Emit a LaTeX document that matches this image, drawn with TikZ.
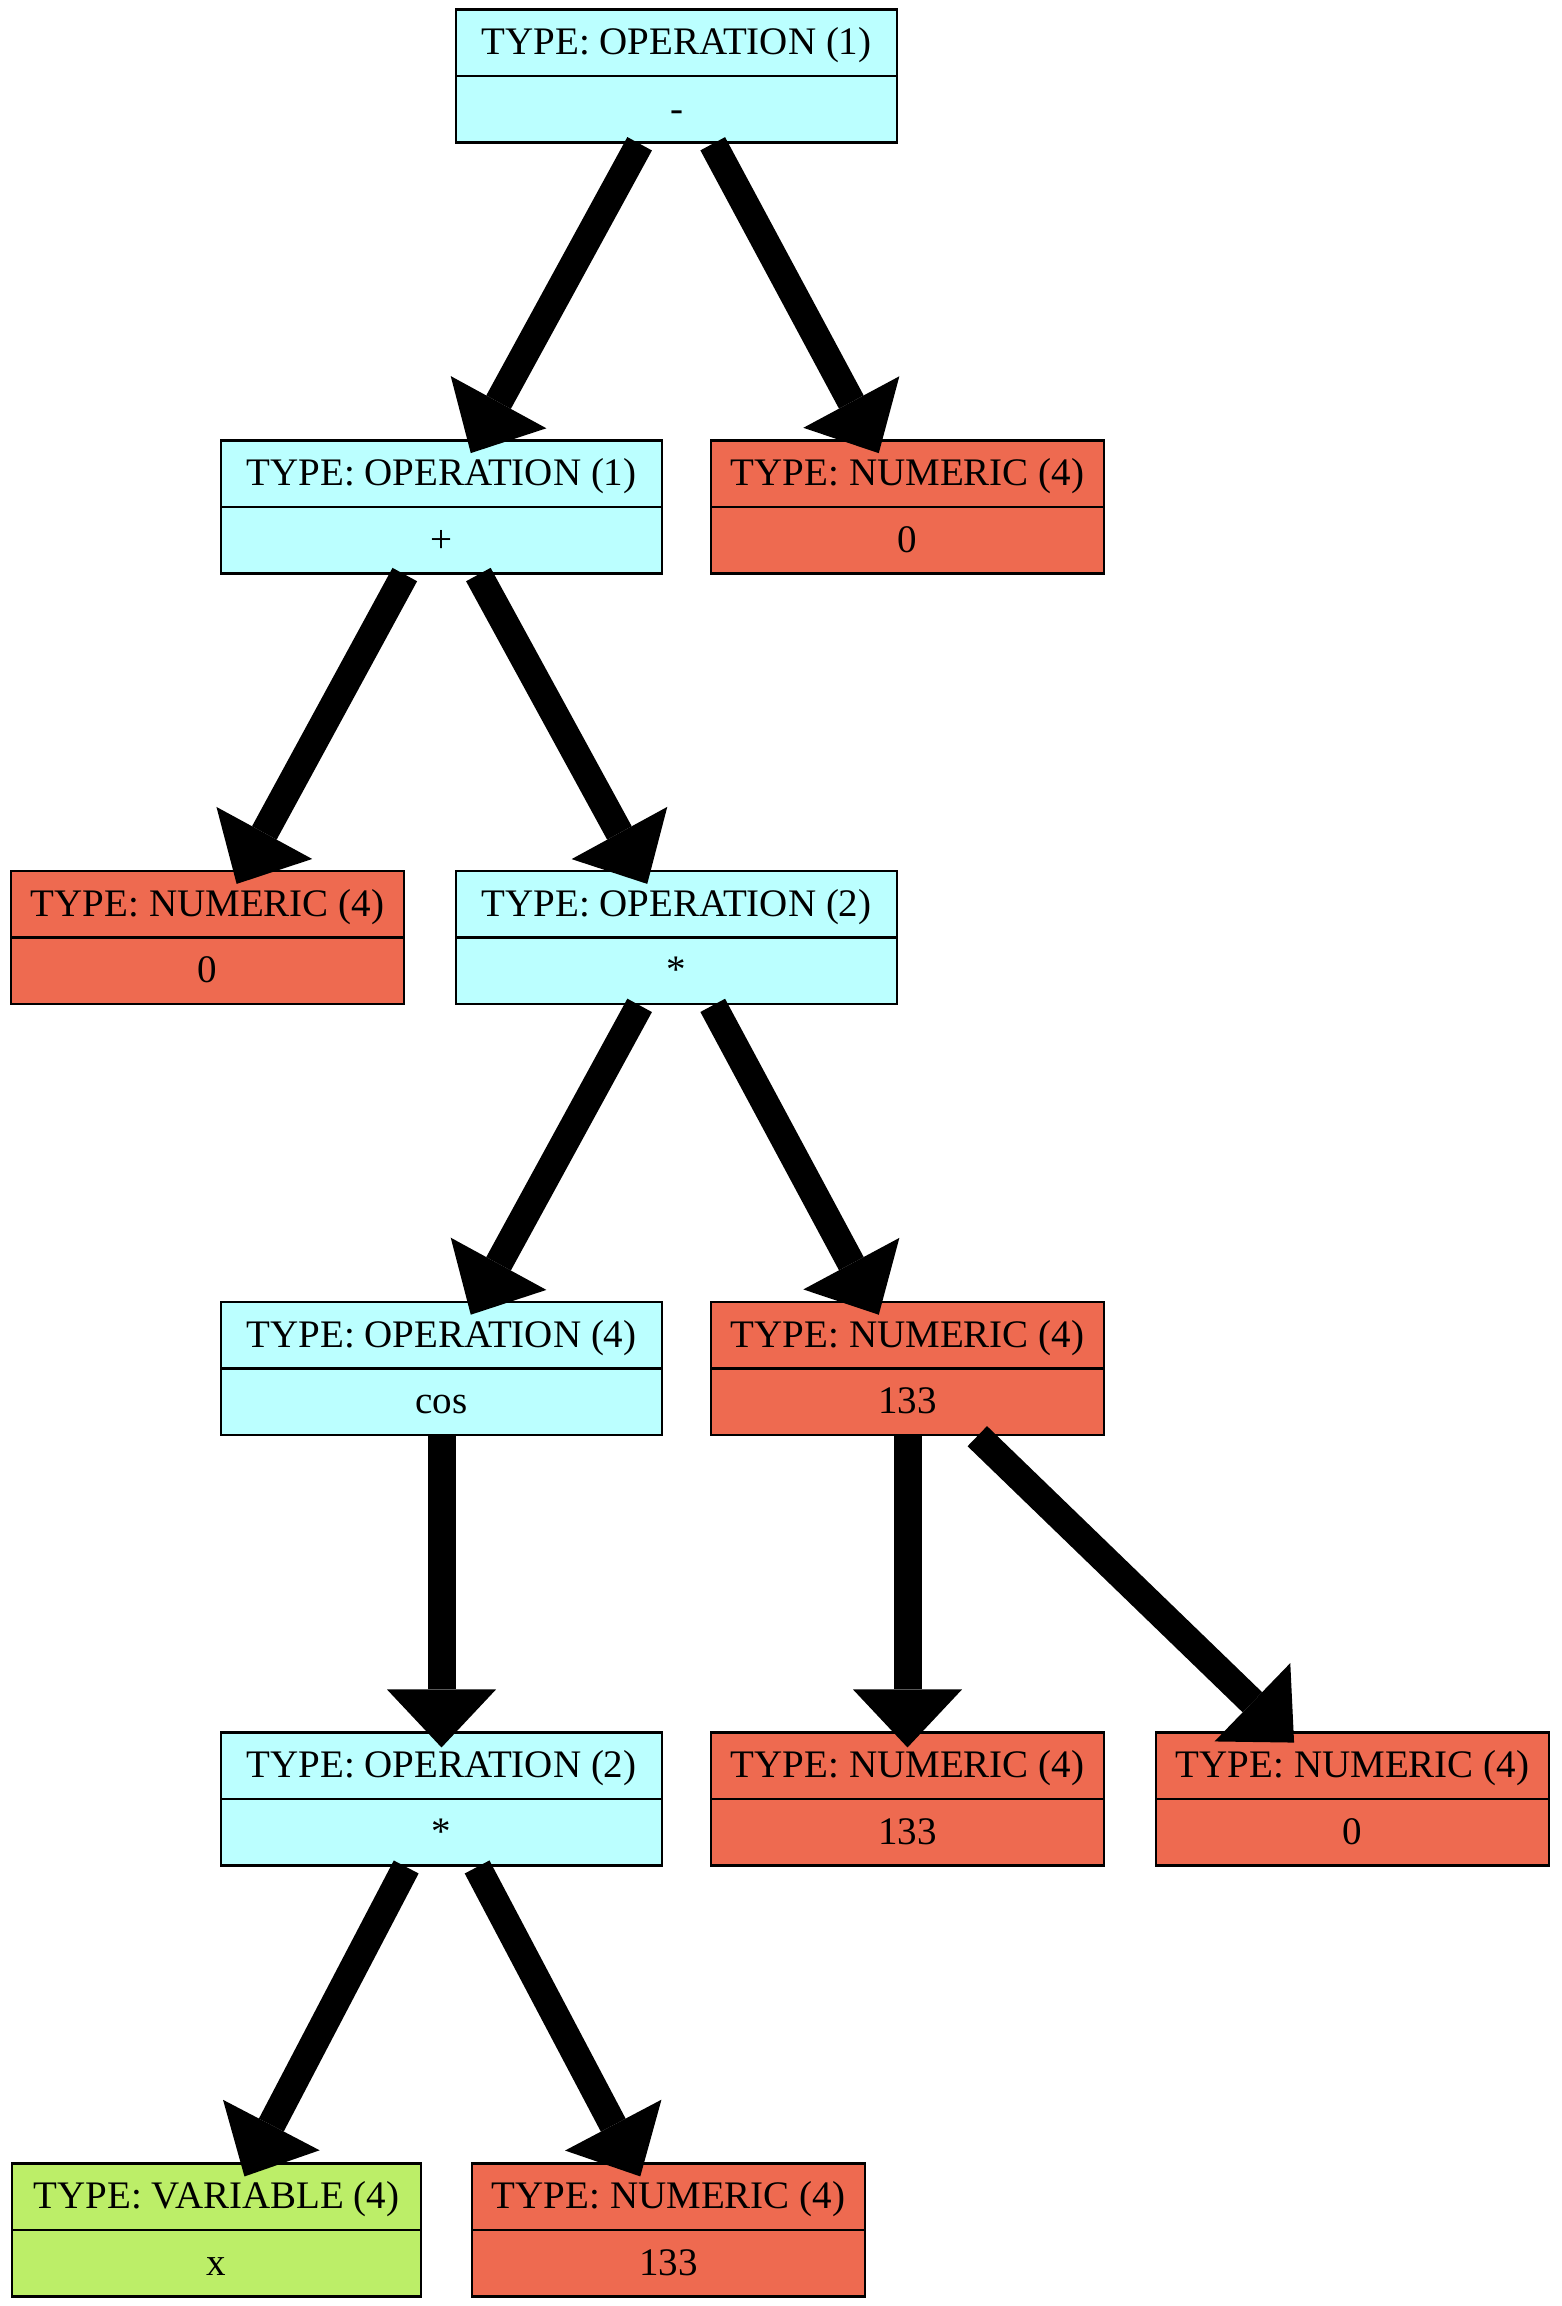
\documentclass[tikz,border=0pt]{standalone}
\usepackage{fontspec}
\setmainfont{Liberation Serif}
\usetikzlibrary{shapes.multipart,arrows.meta}

\definecolor{opfill}{HTML}{BBFFFF}
\definecolor{numfill}{HTML}{EE6A50}
\definecolor{varfill}{HTML}{BCEE68}

% fixed-height cell: every record field is 64pt tall, text baseline at 44pt
\newcommand\cellrow[1]{\rule[-20pt]{0pt}{64pt}#1}

\tikzset{
  treenode/.style={rectangle split, rectangle split parts=2, draw=black,
    line width=2.5pt, inner xsep=0pt, inner ysep=0pt,
    font=\fontsize{39}{47}\selectfont},
  opnode/.style={treenode, fill=opfill, minimum width=441pt},
  numnode/.style={treenode, fill=numfill, minimum width=393pt},
  varnode/.style={treenode, fill=varfill, minimum width=409pt},
  treeedge/.style={line width=28pt,
    -{Triangle[width=109pt,length=58pt,line width=0pt]}, shorten >=-16pt}
}

\begin{document}
\begin{tikzpicture}[x=1pt,y=1pt]
\useasboundingbox (0,0) rectangle (1561,-2306);

\node[opnode]  (n1)  at (676.5,-76)    {\cellrow{TYPE: OPERATION (1)}\nodepart{two}\cellrow{-}};
\node[opnode]  (n2)  at (441.5,-506.8) {\cellrow{TYPE: OPERATION (1)}\nodepart{two}\cellrow{+}};
\node[numnode] (n3)  at (907.5,-506.8) {\cellrow{TYPE: NUMERIC (4)}\nodepart{two}\cellrow{0}};
\node[numnode] (n4)  at (207.5,-937.6) {\cellrow{TYPE: NUMERIC (4)}\nodepart{two}\cellrow{0}};
\node[opnode]  (n5)  at (676.5,-937.6) {\cellrow{TYPE: OPERATION (2)}\nodepart{two}\cellrow{*}};
\node[opnode]  (n6)  at (441.5,-1368.4){\cellrow{TYPE: OPERATION (4)}\nodepart{two}\cellrow{cos}};
\node[numnode] (n7)  at (907.5,-1368.4){\cellrow{TYPE: NUMERIC (4)}\nodepart{two}\cellrow{133}};
\node[opnode]  (n8)  at (441.5,-1799.2){\cellrow{TYPE: OPERATION (2)}\nodepart{two}\cellrow{*}};
\node[numnode] (n9)  at (907.5,-1799.2){\cellrow{TYPE: NUMERIC (4)}\nodepart{two}\cellrow{133}};
\node[numnode] (n10) at (1352.5,-1799.2){\cellrow{TYPE: NUMERIC (4)}\nodepart{two}\cellrow{0}};
\node[varnode] (n11) at (216.5,-2230)  {\cellrow{TYPE: VARIABLE (4)}\nodepart{two}\cellrow{x}};
\node[numnode] (n12) at (668.5,-2230)  {\cellrow{TYPE: NUMERIC (4)}\nodepart{two}\cellrow{133}};

\draw[treeedge] (n1) -- (n2);
\draw[treeedge] (n1) -- (n3);
\draw[treeedge] (n2) -- (n4);
\draw[treeedge] (n2) -- (n5);
\draw[treeedge] (n5) -- (n6);
\draw[treeedge] (n5) -- (n7);
\draw[treeedge] (n6) -- (n8);
\draw[treeedge] (n7) -- (n9);
\draw[treeedge] (n7) -- (n10);
\draw[treeedge] (n8) -- (n11);
\draw[treeedge] (n8) -- (n12);
\end{tikzpicture}
\end{document}
